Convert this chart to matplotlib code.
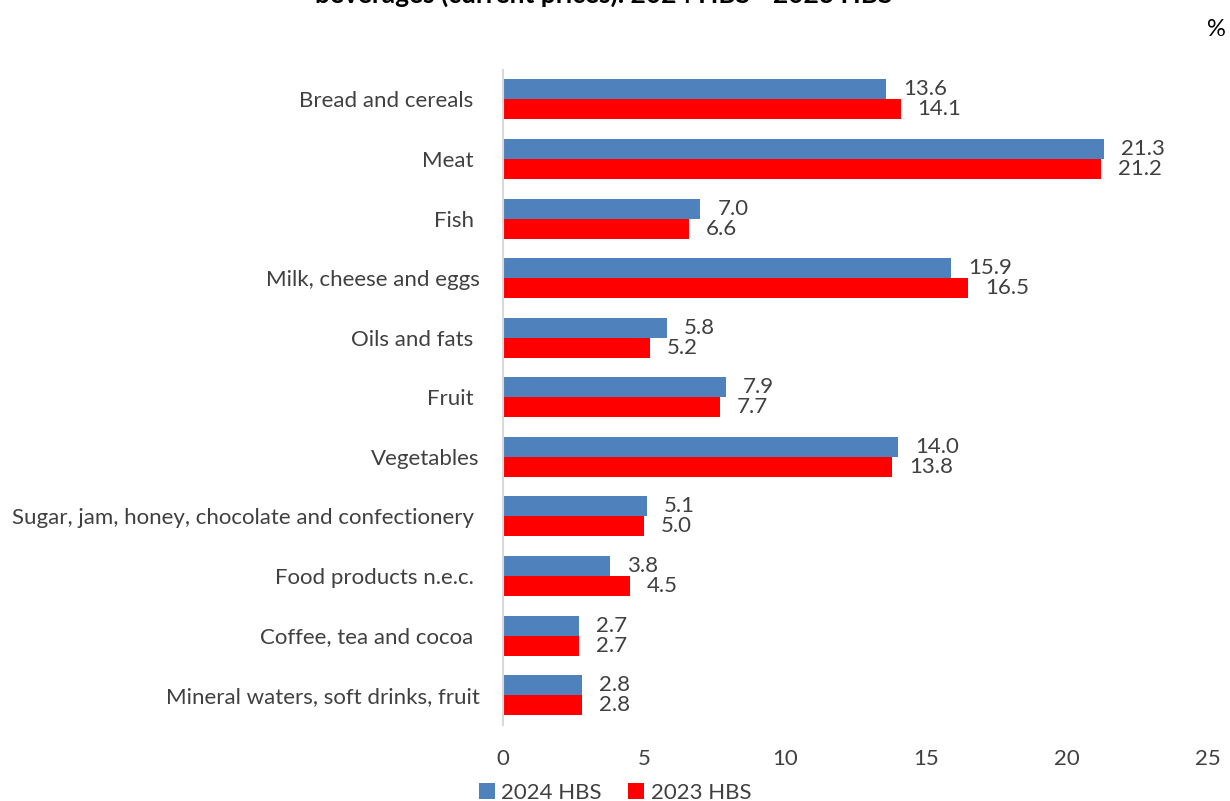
import matplotlib
matplotlib.use("Agg")
import matplotlib.pyplot as plt
import numpy as np

plt.rcParams['font.family'] = ['Lato', 'DejaVu Sans']

categories = ["Bread and cereals ", "Meat ", "Fish ", "Milk, cheese and eggs", "Oils and fats ",
              "Fruit ", "Vegetables", "Sugar, jam, honey, chocolate and confectionery ",
              "Food products n.e.c. ", "Coffee, tea and cocoa ", "Mineral waters, soft drinks, fruit"]
hbs_2024 = [13.6, 21.3, 7.0, 15.9, 5.8, 7.9, 14.0, 5.1, 3.8, 2.7, 2.8]
hbs_2023 = [14.1, 21.2, 6.6, 16.5, 5.2, 7.7, 13.8, 5.0, 4.5, 2.7, 2.8]
x_ticks = [0, 5, 10, 15, 20, 25]

blue = "#4F81BD"
red = "#FF0000"
text_col = "#404040"
fs = 16

fig = plt.figure(figsize=(12.3, 8.01), dpi=100)
ax = fig.add_axes([0.409, 0.095, 0.573, 0.818])

y = np.arange(len(categories))
h = 0.336
ax.barh(y - h / 2, hbs_2024, height=h, color=blue, label="2024 HBS")
ax.barh(y + h / 2, hbs_2023, height=h, color=red, label="2023 HBS")

for i in range(len(categories)):
    ax.annotate("{0:.1f}".format(hbs_2024[i]), (hbs_2024[i], y[i] - h / 2), xytext=(17, 0),
                textcoords="offset pixels", va="center", ha="left", fontsize=fs, color=text_col)
    ax.annotate("{0:.1f}".format(hbs_2023[i]), (hbs_2023[i], y[i] + h / 2), xytext=(17, 0),
                textcoords="offset pixels", va="center", ha="left", fontsize=fs, color=text_col)

ax.set_ylim(len(categories) - 0.5, -0.5)
ax.set_xlim(0, 25)
ax.set_yticks(y)
ax.set_yticklabels(categories, fontsize=fs, color=text_col)
ax.set_xticks(x_ticks)
ax.set_xticklabels([str(t) for t in x_ticks], fontsize=fs, color=text_col)
ax.tick_params(axis="both", length=0)
ax.tick_params(axis="y", pad=17)
ax.tick_params(axis="x", pad=17)
for s in ["top", "right", "bottom"]:
    ax.spines[s].set_visible(False)
ax.spines["left"].set_color("#D9D9D9")
ax.spines["left"].set_linewidth(1.5)

ax.legend(loc="center", bbox_to_anchor=(0.5, 0.01), bbox_transform=fig.transFigure, ncol=2,
          frameon=False, fontsize=fs, handlelength=0.7, handleheight=0.7, handletextpad=0.3,
          columnspacing=1.2, labelcolor=text_col)

fig.text(0.491, 1 - 3 / 801, "beverages (current prices). 2024 HBS - 2023 HBS", ha="center",
         va="baseline", fontsize=19, fontweight="bold", color="black")
fig.text(0.997, 1 - 30 / 801, "%", ha="right", va="center", fontsize=17, color="black")

fig.savefig("out.png")
